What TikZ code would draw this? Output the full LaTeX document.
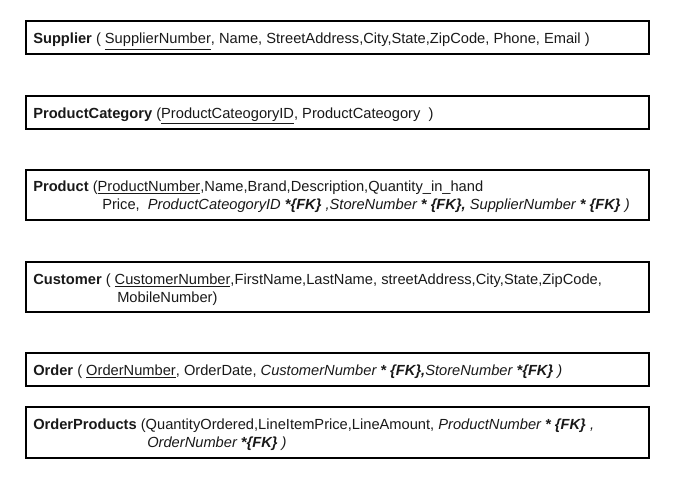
\documentclass[tikz,border=0pt]{standalone}
\usepackage{fontspec}
\setmainfont{Liberation Sans}
\newcommand{\keyu}[1]{\underline{#1}}
\begin{document}
\begin{tikzpicture}[x=0.75pt,y=-0.75pt,
  tbl/.style={draw=black,line width=0.9pt,inner sep=0pt},
  txt/.style={anchor=base west,inner sep=0pt,font=\fontsize{11}{13.2}\selectfont,text=black!90}]
\useasboundingbox (0,0) rectangle (680,492);
% boxes
\draw[tbl] (26,21) rectangle (649,54);
\draw[tbl] (26,96) rectangle (649,129);
\draw[tbl] (26,170) rectangle (649,220);
\draw[tbl] (26,262) rectangle (649,312);
\draw[tbl] (26,353) rectangle (649,386);
\draw[tbl] (26,407) rectangle (649,458);
% texts
\node[txt] (sup) at (33,44) {\textbf{Supplier} ( \keyu{SupplierNumber}, Name, StreetAddress,City,State,ZipCode, Phone, Email )};
\node[txt] (pc) at (33,118) {\textbf{ProductCategory} (\keyu{ProductCateogoryID}, ProductCateogory\ \ )};
\node[txt] (p1) at (33,191) {\textbf{Product} (\keyu{ProductNumber},Name,Brand,Description,Quantity\_in\_hand};
\node[txt] (p2) at (102,209) {Price,\ \ \textit{ProductCateogoryID \textbf{*\{FK\}} ,StoreNumber \textbf{* \{FK\},} SupplierNumber \textbf{* \{FK\}} )}};
\node[txt] (c1) at (33,284) {\textbf{Customer} ( \keyu{CustomerNumber},FirstName,LastName, streetAddress,City,State,ZipCode,};
\node[txt] (c2) at (117,302) {MobileNumber)};
\node[txt] (o1) at (33,375) {\textbf{Order} ( \keyu{OrderNumber}, OrderDate, \textit{CustomerNumber \textbf{* \{FK\},}StoreNumber \textbf{*\{FK\}} )}};
\node[txt] (op1) at (33,429) {\textbf{OrderProducts} (QuantityOrdered,LineItemPrice,LineAmount, \textit{ProductNumber \textbf{* \{FK\}} ,}};
\node[txt] (op2) at (147,447) {\textit{OrderNumber \textbf{*\{FK\}} )}};
\end{tikzpicture}
\end{document}
